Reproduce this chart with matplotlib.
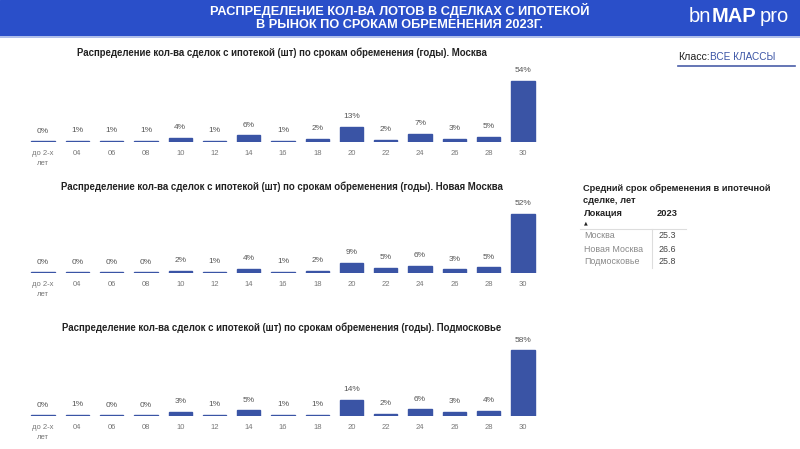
import numpy as np
import matplotlib
matplotlib.use("Agg")
import matplotlib.pyplot as plt

plt.rcParams["font.family"] = ["Liberation Sans", "DejaVu Sans"]

categories = ["до 2-х\nлет", "04", "06", "08", "10", "12", "14", "16", "18",
              "20", "22", "24", "26", "28", "30"]

moscow = [0.45, 0.8, 0.7, 0.9, 3.8, 1.1, 5.8, 1.2, 2.3, 13.2, 2.1, 7.2, 2.9, 4.8, 53.7]
new_moscow = [0.45, 0.45, 0.45, 0.45, 2.1, 1.0, 3.8, 1.1, 1.9, 9.2, 4.8, 5.9, 3.1, 4.9, 52.1]
podmoskovye = [0.45, 0.8, 0.45, 0.45, 3.2, 1.0, 4.9, 1.0, 1.2, 13.8, 1.9, 5.8, 3.2, 4.1, 58.0]

titles = [
    "Распределение кол-ва сделок с ипотекой (шт) по срокам обременения (годы). Москва",
    "Распределение кол-ва сделок с ипотекой (шт) по срокам обременения (годы). Новая Москва",
    "Распределение кол-ва сделок с ипотекой (шт) по срокам обременения (годы). Подмосковье",
]

locations = ["Москва", "Новая Москва", "Подмосковье"]
avg_term = ["25.3", "26.6", "25.8"]

W, H = 800, 449
bar_color = "#3a54a5"
header_blue = "#2a4fc9"
gray = "#777777"

fig = plt.figure(figsize=(8, 4.49), dpi=100)
fig.patch.set_facecolor("white")


def fx(px):
    return px / W


def fy(py):
    return 1 - py / H


# header band
hdr = fig.add_axes([0, fy(36), 1, 36 / H])
hdr.set_xlim(0, 1)
hdr.set_ylim(0, 1)
hdr.axis("off")
hdr.add_patch(plt.Rectangle((0, 0), 1, 1, color=header_blue))
fig.add_artist(plt.Line2D([0, 1], [fy(37), fy(37)], color="#9fb3e6", lw=1.2))

fig.text(0.5, fy(14.5), "РАСПРЕДЕЛЕНИЕ КОЛ-ВА ЛОТОВ В СДЕЛКАХ С ИПОТЕКОЙ",
         ha="center", va="baseline", color="white", fontsize=9.2, fontweight="bold")
fig.text(0.5, fy(28), "В РЫНОК ПО СРОКАМ ОБРЕМЕНЕНИЯ 2023Г.",
         ha="center", va="baseline", color="white", fontsize=9.2, fontweight="bold")

# logo
fig.canvas.draw()
r = fig.canvas.get_renderer()
t1 = fig.text(fx(689), fy(17), "bn", ha="left", va="center", color="white", fontsize=14.5)
bb = t1.get_window_extent(r)
t2 = fig.text(bb.x1 / W, fy(17), "MAP", ha="left", va="center", color="white",
              fontsize=14.5, fontweight="bold")
bb2 = t2.get_window_extent(r)
fig.text(bb2.x1 / W + 0.004, fy(17), "pro", ha="left", va="center", color="white", fontsize=14.5)

# charts
panels = [
    (moscow, titles[0], 53, 142),
    (new_moscow, titles[1], 187, 273),
    (podmoskovye, titles[2], 328, 416),
]
scale = 1.13  # px per percent
x = np.arange(len(categories))
for vals, title, ty, base in panels:
    top = base - 60 * scale
    ax = fig.add_axes([fx(26), fy(base), fx(514), (base - top) / H])
    ax.bar(x, vals, width=0.68, color=bar_color, edgecolor=bar_color, linewidth=1.0)
    ax.set_xlim(-0.5, len(categories) - 0.5)
    ax.set_ylim(0, 60)
    for s in ax.spines.values():
        s.set_visible(False)
    ax.set_yticks([])
    ax.set_xticks(x)
    ax.set_xticklabels(categories, fontsize=5.5, color=gray, linespacing=1.5)
    ax.tick_params(axis="x", length=0, pad=6)
    for xi, v in zip(x, vals):
        ax.annotate(f"{round(v):.0f}%", (xi, v), xytext=(0, 5),
                    textcoords="offset points", ha="center", va="bottom",
                    fontsize=6, color="#555555", annotation_clip=False)
    fig.text(fx(282), fy(ty), title, ha="center", va="center",
             fontsize=6.9, fontweight="bold", color="#222222")

# class filter
c1 = fig.text(fx(678), fy(57), "Класс:", ha="left", va="center", fontsize=7.6, color="#222222")
cb = c1.get_window_extent(r)
fig.text(cb.x1 / W, fy(57), "ВСЕ КЛАССЫ", ha="left", va="center", fontsize=7.2, color="#3a54a5")
fig.add_artist(plt.Line2D([fx(678), fx(795)], [fy(66), fy(66)], color="#4a5ea8", lw=1.2))

# table
fig.text(fx(583), fy(188), "Средний срок обременения в ипотечной", ha="left", va="center",
         fontsize=6.7, fontweight="bold", color="#222222")
fig.text(fx(583), fy(200), "сделке, лет", ha="left", va="center",
         fontsize=6.7, fontweight="bold", color="#222222")
fig.text(fx(584), fy(214), "Локация", ha="left", va="center",
         fontsize=6.7, fontweight="bold", color="#222222")
fig.text(fx(657), fy(214), "2023", ha="left", va="center",
         fontsize=6.7, fontweight="bold", color="#222222")
fig.text(fx(584), fy(223), "▲", ha="left", va="center", fontsize=3.5, color="#222222",
         family="DejaVu Sans")
fig.add_artist(plt.Line2D([fx(580), fx(686)], [fy(229), fy(229)], color="#dddddd", lw=0.8))
fig.add_artist(plt.Line2D([fx(652), fx(652)], [fy(229), fy(268)], color="#dddddd", lw=0.8))
for i, (loc, val) in enumerate(zip(locations, avg_term)):
    yy = 236 + i * 13
    fig.text(fx(584), fy(yy), loc, ha="left", va="center", fontsize=6.4, color="#888888")
    fig.text(fx(659), fy(yy), val, ha="left", va="center", fontsize=6.4, color="#444444")

fig.savefig("out.png", dpi=100)
